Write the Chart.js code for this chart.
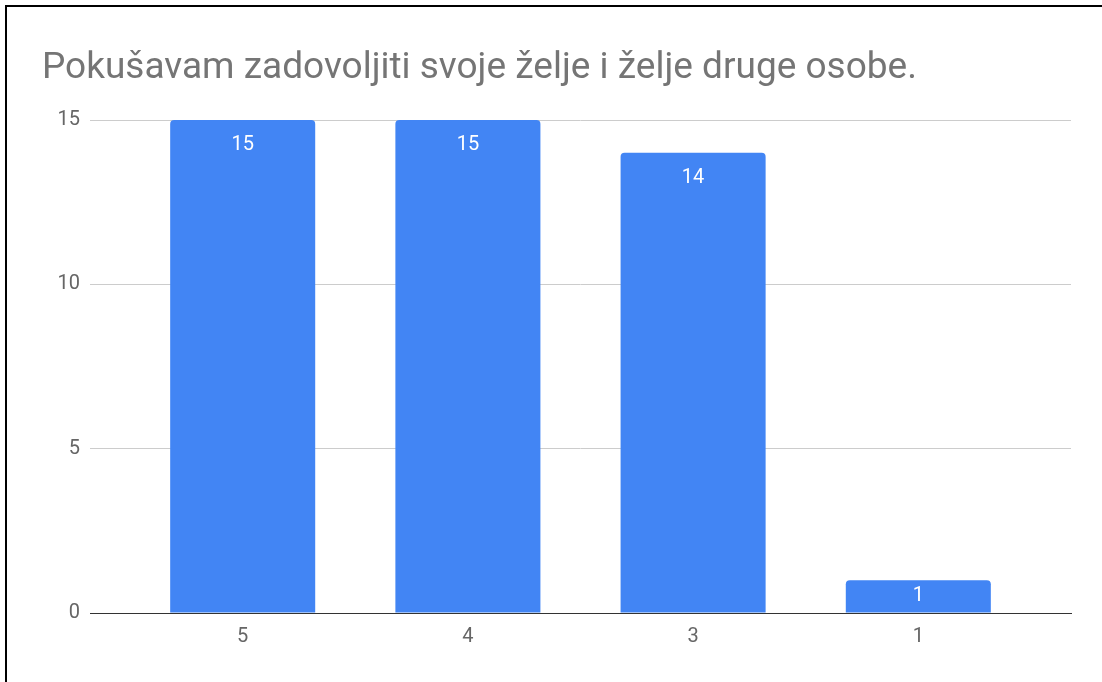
<!DOCTYPE html>
<html lang="hr">
<head>
  <meta charset="UTF-8" />
  <title>Pokušavam zadovoljiti svoje želje i želje druge osobe.</title>
  <script src="https://cdn.jsdelivr.net/npm/chart.js"></script>
  <style>
    html, body { margin: 0; padding: 0; background: #fff; overflow: hidden; }
    .wrap { position: relative; width: 1102px; height: 682px; }
    .frame { position: absolute; left: 5px; top: 5px; right: -10px; bottom: -10px;
             border-left: 2px solid #000; border-top: 2px solid #000; pointer-events: none; }
    canvas { position: absolute; left: 0; top: 0; }
  </style>
</head>
<body>
  <div class="wrap">
    <canvas id="chart" width="1102" height="682"></canvas>
    <div class="frame"></div>
  </div>
  <script>
    const chartTitle = 'Pokušavam zadovoljiti svoje želje i želje druge osobe.';
    const categories = ['5', '4', '3', '1'];
    const counts = [15, 15, 14, 1];
    const yTicks = [0, 5, 10, 15];

    const FONT = 'Roboto, Arial, sans-serif';
    const X_MIN = -0.678, X_MAX = 3.678;

    // title drawn left-aligned above the plot
    const titlePlugin = {
      id: 'titleText',
      afterDraw(chart) {
        const ctx = chart.ctx;
        ctx.save();
        ctx.font = '37px ' + FONT;
        ctx.fillStyle = '#757575';
        ctx.textAlign = 'left';
        ctx.textBaseline = 'alphabetic';
        ctx.fillText(chartTitle, 42, 78);
        ctx.restore();
      }
    };

    // white value labels inside the top of each bar
    const valueLabels = {
      id: 'valueLabels',
      afterDatasetsDraw(chart) {
        const ctx = chart.ctx;
        const meta = chart.getDatasetMeta(0);
        ctx.save();
        ctx.font = '20px ' + FONT;
        ctx.fillStyle = '#ffffff';
        ctx.textAlign = 'center';
        ctx.textBaseline = 'middle';
        meta.data.forEach((bar, i) => {
          const y = Math.min(bar.y + 25, (bar.y + bar.base) / 2);
          ctx.fillText(String(counts[i]), bar.x, y);
        });
        ctx.restore();
      }
    };

    new Chart(document.getElementById('chart'), {
      type: 'bar',
      data: {
        datasets: [{
          data: counts.map((v, i) => ({ x: i, y: v })),
          backgroundColor: '#4285f4',
          borderRadius: { topLeft: 4, topRight: 4, bottomLeft: 0, bottomRight: 0 },
          borderSkipped: false,
          barPercentage: 0.644,
          categoryPercentage: 1
        }]
      },
      options: {
        responsive: false,
        animation: false,
        devicePixelRatio: 1,
        layout: { padding: { left: 42, right: 31, top: 120, bottom: 0 } },
        plugins: {
          legend: { display: false },
          title: { display: false },
          tooltip: { enabled: false }
        },
        scales: {
          x: {
            type: 'linear',
            offset: false,
            bounds: 'data',
            afterDataLimits: s => { s.min = X_MIN; s.max = X_MAX; },
            afterBuildTicks: s => {
              s.min = X_MIN; s.max = X_MAX;
              s.ticks = categories.map((_, i) => ({ value: i }));
            },
            afterFit: s => { s.height = 69; },
            grid: { display: false, drawTicks: false },
            border: { display: true, color: '#333333', width: 1, z: 1 },
            ticks: {
              callback: v => categories[v] ?? '',
              color: '#666666',
              font: { family: FONT, size: 20 },
              padding: 12,
              maxRotation: 0
            }
          },
          y: {
            min: 0,
            max: 15,
            afterBuildTicks: s => { s.ticks = yTicks.map(v => ({ value: v })); },
            afterFit: s => { s.width = 48; },
            grid: { color: '#cccccc', lineWidth: 1, drawTicks: false },
            border: { display: false },
            ticks: {
              color: '#666666',
              font: { family: FONT, size: 20 },
              padding: 10
            }
          }
        }
      },
      plugins: [titlePlugin, valueLabels]
    });
  </script>
</body>
</html>
